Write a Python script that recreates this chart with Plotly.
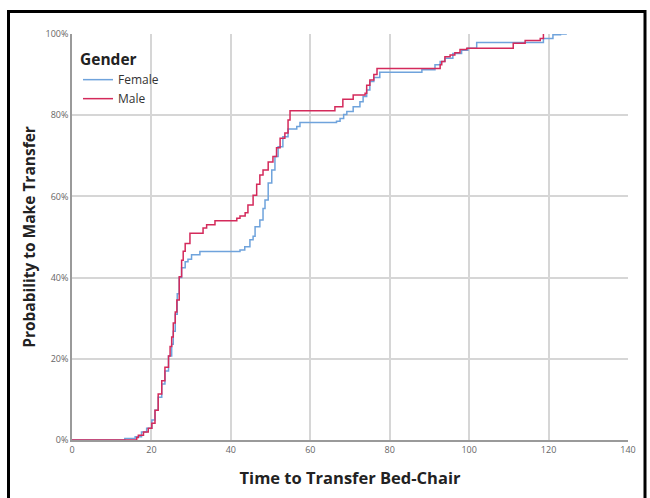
import plotly.graph_objects as go

# Female (time, cumulative probability %)
female_t = [0, 13.3, 15.9, 17.5, 18.8, 20.1, 20.9, 21.7, 22.6, 23.4, 24.3, 25.1, 25.5, 26.0, 26.5, 27.0,
            27.6, 28.5, 29.2, 30.1, 32.2, 42.3, 43.5, 44.8, 45.6, 46.1, 47.3, 48.1, 48.6, 49.4, 50.3,
            51.1, 51.9, 53.1, 54.4, 56.6, 57.4, 66.6, 67.5, 68.4, 69.2, 70.8, 72.5, 73.3, 74.2, 75.0,
            76.0, 77.5, 88.1, 91.4, 92.7, 93.9, 95.9, 98.1, 99.7, 101.9, 118.7, 121.1, 123.0, 124.6]
female_p = [0, 0.4, 0.8, 2.0, 2.9, 4.9, 7.3, 10.5, 13.8, 17.0, 20.7, 23.6, 26.8, 31.0, 36.0, 40.0,
            42.4, 43.9, 44.5, 45.6, 46.4, 46.8, 47.6, 49.3, 50.2, 52.5, 54.2, 57.0, 59.1, 63.3, 66.5,
            69.8, 72.2, 74.7, 76.6, 77.2, 78.2, 78.5, 79.2, 80.2, 80.9, 82.1, 83.3, 84.6, 86.2, 88.3,
            89.3, 90.6, 91.2, 92.4, 93.2, 94.0, 95.2, 96.0, 96.5, 97.9, 98.9, 99.8, 100.0, 100.0]

# Male (time, cumulative probability %)
male_t = [0, 16.3, 16.7, 18.0, 19.2, 20.1, 20.9, 21.7, 22.6, 23.4, 24.3, 24.7, 25.1, 25.5, 26.0, 26.4,
          27.0, 27.6, 28.0, 28.5, 29.7, 33.0, 33.9, 36.0, 41.5, 42.3, 43.6, 44.3, 45.6, 46.5, 47.3,
          48.1, 49.4, 50.6, 51.5, 52.4, 53.6, 54.4, 54.9, 66.2, 68.2, 70.8, 73.8, 74.2, 75.0, 76.0,
          76.8, 92.7, 93.1, 93.9, 95.2, 96.4, 97.7, 99.4, 111.1, 114.1, 117.9, 118.7]
male_p = [0, 0.6, 1.2, 2.0, 2.9, 4.1, 7.3, 11.3, 14.6, 17.9, 20.7, 23.0, 25.4, 28.8, 31.5, 34.5,
          40.2, 44.3, 46.5, 48.4, 50.9, 52.2, 53.0, 54.0, 54.6, 55.2, 56.0, 57.9, 60.3, 63.0, 65.3,
          66.5, 68.5, 69.8, 72.0, 74.3, 75.6, 78.8, 81.1, 82.1, 83.9, 85.0, 85.4, 87.4, 88.7, 90.0,
          91.5, 92.4, 93.2, 94.4, 94.8, 95.4, 96.2, 96.5, 97.7, 98.4, 98.9, 100.0]

x_ticks = [0, 20, 40, 60, 80, 100, 120, 140]
y_ticks = [0, 0.2, 0.4, 0.6, 0.8, 1.0]

fig = go.Figure()
fig.add_trace(go.Scatter(x=female_t, y=[v / 100 for v in female_p], mode="lines", name="Female",
                         line=dict(color="#6fa3dc", width=1.5, shape="hv")))
fig.add_trace(go.Scatter(x=male_t, y=[v / 100 for v in male_p], mode="lines", name="Male",
                         line=dict(color="#d42a5b", width=1.5, shape="hv")))

W, H = 650, 498
ml, mr, mt, mb = 72, 22, 34, 58
pw, ph = W - ml - mr, H - mt - mb

def px2x(p):
    return (p - ml) / pw

def py2y(p):
    return (H - mb - p) / ph

fig.add_shape(type="rect", xref="paper", yref="paper",
              x0=px2x(8.5), x1=px2x(645), y0=py2y(520), y1=py2y(11.5),
              line=dict(color="black", width=3), fillcolor="rgba(0,0,0,0)", layer="above")

fig.update_layout(
    width=W, height=H,
    margin=dict(l=ml, r=mr, t=mt, b=mb),
    paper_bgcolor="white", plot_bgcolor="white",
    font=dict(family="Open Sans, DejaVu Sans, sans-serif", color="#222"),
    showlegend=True,
    legend=dict(x=px2x(78), y=py2y(45), xanchor="left", yanchor="top",
                bgcolor="rgba(0,0,0,0)",
                title=dict(text="<b>Gender</b>", font=dict(size=15.5, color="#222"), side="top"),
                font=dict(size=12, color="#333"), tracegroupgap=0, itemwidth=30),
    xaxis=dict(range=[0, 140], tickvals=x_ticks, ticktext=[str(v) for v in x_ticks],
               showgrid=True, gridcolor="#d6d6d6", gridwidth=1.5,
               showline=True, linecolor="#9a9a9a", linewidth=1.5, ticks="",
               tickfont=dict(size=9, color="#666"), zeroline=False,
               title=dict(text="<b>Time to Transfer Bed-Chair</b>", font=dict(size=16.5, color="#222"),
                          standoff=18)),
    yaxis=dict(range=[0, 1], tickvals=y_ticks, tickformat=".0%",
               showgrid=True, gridcolor="#d6d6d6", gridwidth=1.5,
               showline=True, linecolor="#9a9a9a", linewidth=1.5, ticks="",
               tickfont=dict(size=9, color="#666"), zeroline=False,
               title=dict(text="<b>Probability to Make Transfer</b>", font=dict(size=15.5, color="#222"),
                          standoff=6)),
)

fig.write_html("out.html")
